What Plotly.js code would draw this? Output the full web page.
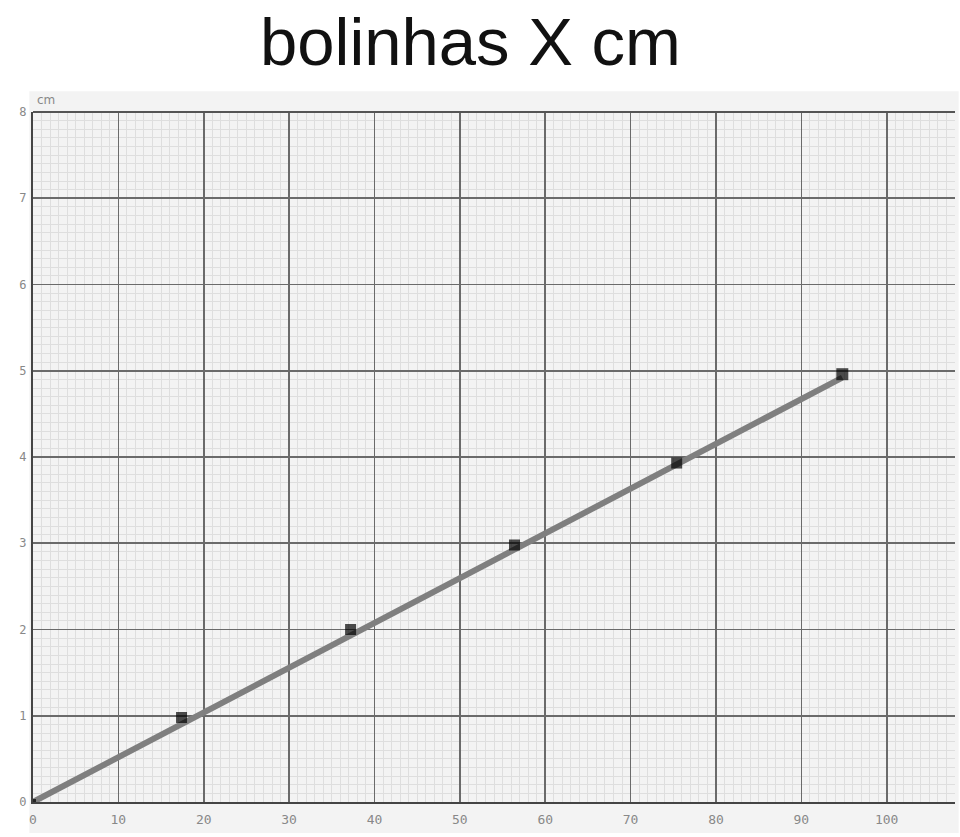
<!DOCTYPE html>
<html>
<head>
<meta charset="utf-8">
<script src="https://cdn.plot.ly/plotly-3.0.1.min.js"></script>
<style>html,body{margin:0;padding:0;background:#fff;}#chart{width:960px;height:837px;}</style>
</head>
<body>
<div id="chart"></div>
<script>
// Data
const bolinhas = [0, 17.4, 37.2, 56.4, 75.4, 94.8];
const cm = [0, 0.98, 2.0, 2.98, 3.93, 4.96];
const fitX = [0, 94.8];
const fitY = [0, 4.92];
const xTicks = [0, 10, 20, 30, 40, 50, 60, 70, 80, 90, 100];
const xTickText = ['0', '10', '20', '30', '40', '50', '60', '70', '80', '90', '100'];
const yTicks = [0, 1, 2, 3, 4, 5, 6, 7, 8];

const traces = [
  {
    x: fitX, y: fitY, type: 'scatter', mode: 'lines',
    line: {color: '#7f7f7f', width: 6}, hoverinfo: 'skip', showlegend: false
  },
  {
    x: bolinhas, y: cm, type: 'scatter', mode: 'markers',
    marker: {symbol: 'square', color: '#000', size: [6, 11, 11, 11, 11, 12], line: {width: 0}},
    showlegend: false
  }
];

const layout = {
  width: 960, height: 837,
  margin: {l: 33, r: 5, t: 112, b: 35},
  paper_bgcolor: '#ffffff',
  plot_bgcolor: '#f6f6f6',
  title: {
    text: 'bolinhas X cm',
    font: {family: 'Liberation Sans, Arial, sans-serif', size: 67, color: '#111'},
    x: 0.49, xanchor: 'center', y: 0.95, yanchor: 'middle'
  },
  xaxis: {
    range: [0, 108], tickvals: xTicks, ticktext: xTickText,
    showgrid: true, gridcolor: '#6a6a6a', gridwidth: 1.6,
    minor: {dtick: 1, showgrid: true, gridcolor: '#dedede', gridwidth: 1},
    showline: true, linecolor: '#444', linewidth: 2,
    zeroline: false, ticks: '', ticklabelstandoff: 4,
    tickfont: {family: 'DejaVu Sans Mono, monospace', size: 13, color: '#888'}
  },
  yaxis: {
    range: [0, 8], tickvals: yTicks,
    showgrid: true, gridcolor: '#6a6a6a', gridwidth: 1.6,
    minor: {dtick: 0.1, showgrid: true, gridcolor: '#dedede', gridwidth: 1},
    showline: true, linecolor: '#444', linewidth: 2, mirror: false,
    zeroline: false, ticks: '', ticklabelstandoff: 2,
    tickfont: {family: 'DejaVu Sans Mono, monospace', size: 12, color: '#888'}
  },
  shapes: [
    {type: 'rect', xref: 'paper', yref: 'paper', x0: -0.004, x1: 1.004, y0: -0.045, y1: 1.03,
     fillcolor: '#f3f3f3', line: {width: 0}, layer: 'below'},
    {type: 'line', xref: 'paper', yref: 'paper', x0: 0, x1: 1, y0: 1, y1: 1,
     line: {color: '#555', width: 2}}
  ],
  annotations: [
    {text: 'cm', xref: 'paper', yref: 'paper', x: 0.002, y: 1.005, xanchor: 'left', yanchor: 'bottom',
     showarrow: false, font: {family: 'DejaVu Sans, sans-serif', size: 12, color: '#888'}}
  ]
};

Plotly.newPlot('chart', traces, layout, {displayModeBar: false, staticPlot: true});
</script>
</body>
</html>
